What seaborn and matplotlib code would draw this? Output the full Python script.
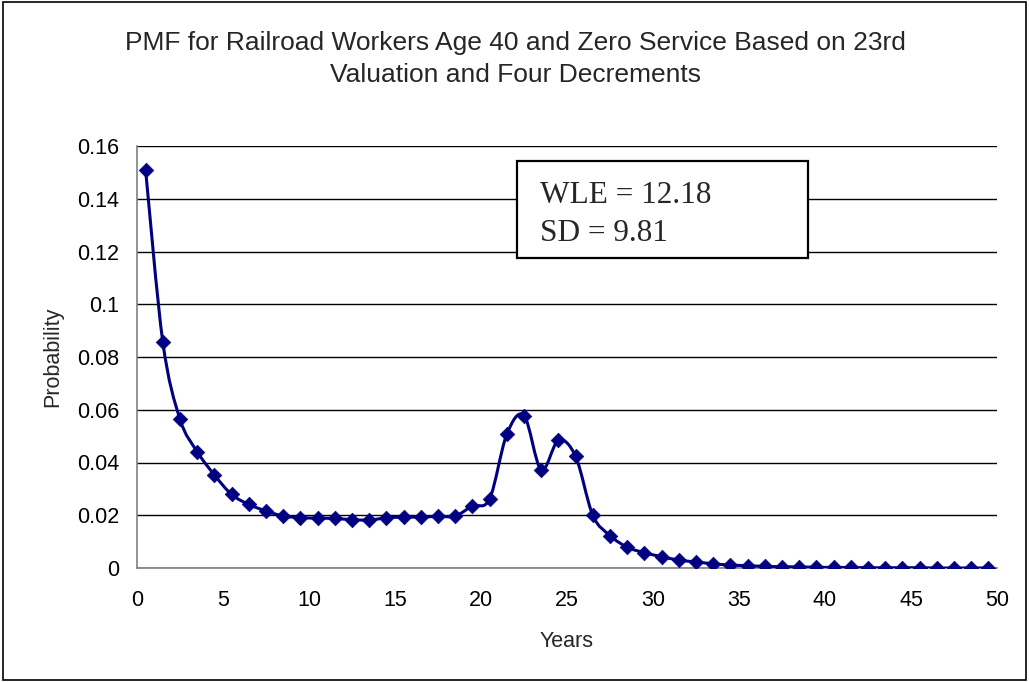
import numpy as np
import pandas as pd
import matplotlib
matplotlib.use("Agg")
import matplotlib.pyplot as plt
from matplotlib.path import Path
from matplotlib.patches import PathPatch, Rectangle
import seaborn as sns

years = [0.5 + i for i in range(50)]
probability = [
    0.1509, 0.0857, 0.0564, 0.0441, 0.0353, 0.0279, 0.0241, 0.0216, 0.0197, 0.0191,
    0.0189, 0.0188, 0.0183, 0.0182, 0.0190, 0.0193, 0.0193, 0.0196, 0.0197, 0.0235,
    0.0262, 0.0507, 0.0578, 0.0372, 0.0484, 0.0423, 0.0200, 0.0123, 0.0079, 0.0058,
    0.0043, 0.0030, 0.0023, 0.0016, 0.0011, 0.0009, 0.0006, 0.0005, 0.0004, 0.0003,
    0.0002, 0.0002, 0.0001, 0.0001, 0.0001, 0.0001, 0.0000, 0.0000, 0.0000, 0.0000,
]
title_text = "PMF for Railroad Workers Age 40 and Zero Service Based on 23rd\nValuation and Four Decrements"
stats_lines = ["WLE = 12.18", "SD = 9.81"]
x_ticks = list(range(0, 51, 5))
y_ticks = [0, 0.02, 0.04, 0.06, 0.08, 0.1, 0.12, 0.14, 0.16]
y_ticklabels = ["0", "0.02", "0.04", "0.06", "0.08", "0.1", "0.12", "0.14", "0.16"]

df = pd.DataFrame({"Years": years, "Probability": probability})

sns.set_style("white")
plt.rcParams["font.family"] = ["Liberation Sans", "DejaVu Sans"]

W, H = 1029, 682
fig = plt.figure(figsize=(W / 100, H / 100), dpi=100)
ax = fig.add_axes([137 / W, 1 - 568 / H, (997 - 137) / W, (568 - 146) / H])

navy = "#000080"

# smoothed line (Catmull-Rom -> cubic Bezier), like Excel's smoothed line
xs = np.array(years)
ys = np.array(probability)
verts = [(xs[0], ys[0])]
codes = [Path.MOVETO]
n = len(xs)
for i in range(n - 1):
    p0 = np.array([xs[max(i - 1, 0)], ys[max(i - 1, 0)]])
    p1 = np.array([xs[i], ys[i]])
    p2 = np.array([xs[i + 1], ys[i + 1]])
    p3 = np.array([xs[min(i + 2, n - 1)], ys[min(i + 2, n - 1)]])
    c1 = p1 + (p2 - p0) / 6.0
    c2 = p2 - (p3 - p1) / 6.0
    verts += [tuple(c1), tuple(c2), tuple(p2)]
    codes += [Path.CURVE4, Path.CURVE4, Path.CURVE4]
ax.add_patch(PathPatch(Path(verts, codes), facecolor="none", edgecolor=navy, lw=2.2, zorder=3))

sns.scatterplot(data=df, x="Years", y="Probability", ax=ax, marker="D", s=55,
                color=navy, edgecolor=navy, linewidth=0.5, zorder=4, legend=False)

ax.set_xlim(0, 50)
ax.set_ylim(0, 0.16)
ax.set_xticks(x_ticks)
ax.set_xticklabels([str(t) for t in x_ticks])
ax.set_yticks(y_ticks)
ax.set_yticklabels(y_ticklabels)
ax.yaxis.grid(True, color="black", lw=1.0)
ax.set_axisbelow(True)
for s in ["top", "right"]:
    ax.spines[s].set_visible(False)
for s in ["left", "bottom"]:
    ax.spines[s].set_color("#808080")
    ax.spines[s].set_linewidth(1.2)
ax.tick_params(axis="both", which="major", direction="out", length=7, width=1,
               color="#808080", labelsize=15.5, labelcolor="black")
ax.tick_params(axis="x", pad=9)
ax.tick_params(axis="y", pad=6)
ax.set_xlabel("Years", fontsize=15.5, labelpad=14)
ax.set_ylabel("Probability", fontsize=15.5, labelpad=10)

fig.text(515 / W, 1 - 59 / H, title_text, ha="center", va="center", fontsize=19,
         linespacing=1.42)

# stats box
ax.add_patch(Rectangle((0.4419, 0.7346), 0.7802 - 0.4419, 0.9645 - 0.7346,
                       transform=ax.transAxes, facecolor="white", edgecolor="black",
                       lw=1.6, zorder=6))
for line, ypix in zip(stats_lines, [203, 241]):
    ax.text((540 - 137) / 860, (568 - ypix) / 422, line, transform=ax.transAxes,
            ha="left", va="baseline", fontsize=22.5,
            family=["Liberation Serif", "DejaVu Serif"], zorder=7)

fig.patches.append(Rectangle((3 / W, 2 / H), (1026 - 3) / W, (680 - 2) / H,
                             transform=fig.transFigure, fill=False, edgecolor="black", lw=1.2))

fig.savefig("out.png", dpi=100)
